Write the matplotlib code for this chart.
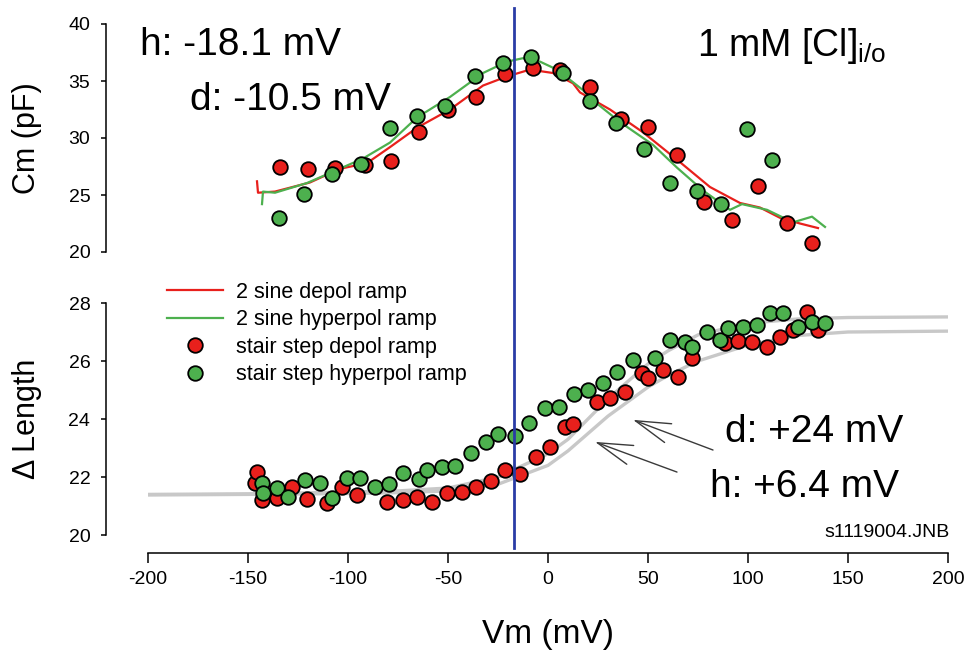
# Cm and Δ Length versus Vm, two panels sharing the voltage axis
import matplotlib.pyplot as plt
from matplotlib.transforms import blended_transform_factory

plt.rcParams['font.family'] = ['Liberation Sans', 'DejaVu Sans']
plt.rcParams['axes.unicode_minus'] = False

# ---- top panel: capacitance (pF) ----
cm_red_x = [-134, -120, -106.5, -91.5, -78.5, -64.5, -50, -36, -21.5, -7.5, 6, 21,
            36.5, 50, 64.5, 78, 92, 105, 119.5, 132]
cm_red_y = [27.46, 27.28, 27.37, 27.63, 27.98, 30.53, 32.46, 33.6, 35.6, 36.14, 35.96, 34.47,
            31.67, 30.96, 28.5, 24.39, 22.81, 25.79, 22.54, 20.79]
cm_green_x = [-134.5, -122, -108, -93.5, -79, -65.5, -51.5, -36.5, -22.5, -8.5, 7.5, 21,
              34, 48, 61, 74.5, 86.5, 99.5, 112]
cm_green_y = [22.98, 25.09, 26.84, 27.72, 30.88, 31.93, 32.81, 35.44, 36.58, 37.1, 35.7, 33.25,
              31.3, 29.04, 26.05, 25.35, 24.21, 30.79, 28.07]

cm_red_line_x = [-145.5, -145, -136.5, -119, -104, -90.5, -79, -65.5, -49, -32.5, -20.5, -9,
                 2.5, 12.5, 16, 31, 47.5, 64.5, 81, 96, 106, 116, 126, 135]
cm_red_line_y = [26.2, 25.2, 25.3, 26.1, 27.3, 27.8, 29.2, 30.9, 32.5, 34.6, 35.4, 36.0,
                 35.7, 34.8, 34.0, 32.5, 30.5, 28.1, 25.7, 24.3, 23.9, 23.0, 22.5, 22.1]
cm_green_line_x = [-143, -142.5, -136.5, -120.5, -105.5, -92.5, -79, -65.5, -49, -32.5, -20.5,
                   -12.5, -4, 4.5, 17.5, 22.5, 36, 52.5, 64.5, 77.5, 91, 97, 109.5, 122.5,
                   132, 138.5]
cm_green_line_y = [24.2, 25.3, 25.2, 26.05, 27.2, 28.2, 29.6, 31.8, 33.6, 35.7, 36.7,
                   37.0, 36.7, 36.0, 34.2, 33.3, 31.4, 29.4, 27.4, 25.4, 23.7, 24.2, 23.7, 22.6,
                   23.1, 22.2]

# ---- bottom panel: length change ----
len_red_x = [-146.5, -145.5, -143, -135.5, -128, -120.5, -110.5, -103, -95.5, -80.5, -72.5,
             -65.5, -58, -50.5, -43, -36, -28.5, -21.5, -14, -6, 1, 8.5, 12.5, 24.5, 31,
             38.5, 47, 50, 57.5, 65, 72, 88.5, 95, 102, 109.5, 116, 122.5, 129.5, 135]
len_red_y = [21.79, 22.17, 21.21, 21.28, 21.66, 21.24, 21.10, 21.66, 21.38, 21.14, 21.21,
             21.31, 21.14, 21.45, 21.48, 21.66, 21.86, 22.24, 22.10, 22.69, 23.03, 23.72, 23.83,
             24.59, 24.72, 24.93, 25.59, 25.41, 25.69, 25.45, 26.10, 26.62, 26.69, 26.66, 26.48,
             26.83, 27.07, 27.69, 27.07]
len_green_x = [-143, -142.5, -135.5, -130, -121.5, -114, -108, -100.5, -94, -86.5, -79.5,
               -72.5, -64.5, -60.5, -53, -46.5, -38.5, -31, -25, -16.5, -9.5, -1.5, 5.5, 13,
               20, 27.5, 34.5, 42.5, 53.5, 61, 68.5, 72, 79.5, 86, 90, 97.5, 104.5, 111,
               117.5, 125, 132, 138.5]
len_green_y = [21.79, 21.45, 21.62, 21.31, 21.90, 21.79, 21.28, 21.97, 21.97, 21.66, 21.76,
               22.14, 21.93, 22.24, 22.34, 22.38, 22.83, 23.21, 23.48, 23.41, 23.86, 24.38, 24.41,
               24.86, 25.0, 25.24, 25.62, 26.03, 26.10, 26.72, 26.66, 26.48, 27.0, 26.72, 27.14,
               27.17, 27.24, 27.66, 27.66, 27.17, 27.34, 27.31]

# gray fitted curves
fit_x = [-200, -150, -100, -75, -50, -25, 0, 10, 20, 30, 40, 50, 60, 75, 100, 125, 150, 200]
fit_upper_y = [21.40, 21.42, 21.48, 21.52, 21.62, 22.00, 22.80, 23.30, 24.00, 24.70, 25.30,
               25.90, 26.35, 26.90, 27.30, 27.45, 27.50, 27.52]
fit_lower_y = [21.38, 21.40, 21.43, 21.46, 21.52, 21.75, 22.40, 22.90, 23.50, 24.10, 24.60,
               25.10, 25.50, 26.00, 26.55, 26.88, 27.00, 27.03]

v_marker = -17

RED = '#e8201c'
GREEN = '#4db04e'
W, H = 971, 658

fig = plt.figure(figsize=(W / 100, H / 100), dpi=100)
ax1 = fig.add_axes([148 / W, 1 - 252 / H, 800 / W, 228 / H])
ax2 = fig.add_axes([148 / W, 1 - 535 / H, 800 / W, 232 / H])

mk = dict(linestyle='none', marker='o', markersize=10.5, markeredgecolor='black',
          markeredgewidth=1.3)

ax1.plot(cm_red_line_x, cm_red_line_y, color=RED, lw=1.6, label='2 sine depol ramp')
ax1.plot(cm_green_line_x, cm_green_line_y, color=GREEN, lw=1.6, label='2 sine hyperpol ramp')
ax1.plot(cm_red_x, cm_red_y, color=RED, label='stair step depol ramp', **mk)
ax1.plot(cm_green_x, cm_green_y, color=GREEN, label='stair step hyperpol ramp', **mk)

ax2.plot(fit_x, fit_upper_y, color='#c8c8c8', lw=2.4, zorder=1)
ax2.plot(fit_x, fit_lower_y, color='#c8c8c8', lw=2.4, zorder=1)
ax2.plot(len_red_x, len_red_y, color=RED, zorder=3, **mk)
ax2.plot(len_green_x, len_green_y, color=GREEN, zorder=4, **mk)

for ax in (ax1, ax2):
    ax.set_xlim(-200, 200)
    ax.spines['top'].set_visible(False)
    ax.spines['right'].set_visible(False)
    ax.spines['left'].set_position(('outward', 30))
    ax.spines['left'].set_linewidth(1.1)
    ax.tick_params(axis='y', direction='out', length=3.5, width=1.1, pad=8, labelsize=14)
    ax.patch.set_alpha(0)

ax1.set_ylim(20, 40)
ax1.set_yticks([20, 25, 30, 35, 40])
ax1.spines['bottom'].set_visible(False)
ax1.set_xticks([])

ax2.set_ylim(20, 28)
ax2.set_yticks([20, 22, 24, 26, 28])
ax2.spines['bottom'].set_position(('outward', 13))
ax2.spines['bottom'].set_linewidth(1.1)
ax2.set_xticks([-200, -150, -100, -50, 0, 50, 100, 150, 200])
ax2.tick_params(axis='x', direction='out', length=7, width=1.1, pad=6, labelsize=14)

ax1.set_ylabel('Cm (pF)', fontsize=22, va='center')
ax1.yaxis.set_label_coords(-0.151, 0.5)
ax2.set_ylabel('Δ Length', fontsize=22, va='center')
ax2.yaxis.set_label_coords(-0.151, 0.5)
ax2.set_xlabel('Vm (mV)', fontsize=24, va='center')
ax2.xaxis.set_label_coords(0.5, -0.431)

# blue vertical marker through both panels
trans = blended_transform_factory(ax2.transData, fig.transFigure)
fig.add_artist(plt.Line2D([v_marker, v_marker], [1 - 8 / H, 1 - 548 / H], transform=trans,
                          color='#2a3ca6', lw=2))

# texts
ax1.text(-204, 37.28, 'h: -18.1 mV', fontsize=28, ha='left', va='baseline')
ax1.text(-179, 32.46, 'd: -10.5 mV', fontsize=28, ha='left', va='baseline')
ax1.text(74.5, 37.19, r'1 mM [Cl]$_{\mathregular{i/o}}$', fontsize=27, ha='left', va='baseline')
ax2.text(88.5, 23.21, 'd: +24 mV', fontsize=28, ha='left', va='baseline')
ax2.text(81, 21.31, 'h: +6.4 mV', fontsize=28, ha='left', va='baseline')
ax2.text(201, 19.93, 's1119004.JNB', fontsize=14, ha='right', va='baseline')

arrow = dict(arrowstyle='->,head_length=1.4,head_width=0.4', color='#3a3a3a', lw=1,
             mutation_scale=18, shrinkA=0, shrinkB=0)
ax2.annotate('', xy=(42.5, 23.97), xytext=(82.5, 22.93), arrowprops=arrow)
ax2.annotate('', xy=(23.5, 23.21), xytext=(64.5, 22.17), arrowprops=arrow)

h, l = ax1.get_legend_handles_labels()
ax2.legend(h, l, loc='upper left', bbox_to_anchor=(167 / W, 1 - 282 / H),
           bbox_transform=fig.transFigure, frameon=False, fontsize=15.5, borderpad=0,
           borderaxespad=0, handlelength=2.6, handletextpad=0.6, labelspacing=0.3)

plt.savefig('out.png', dpi=100)
